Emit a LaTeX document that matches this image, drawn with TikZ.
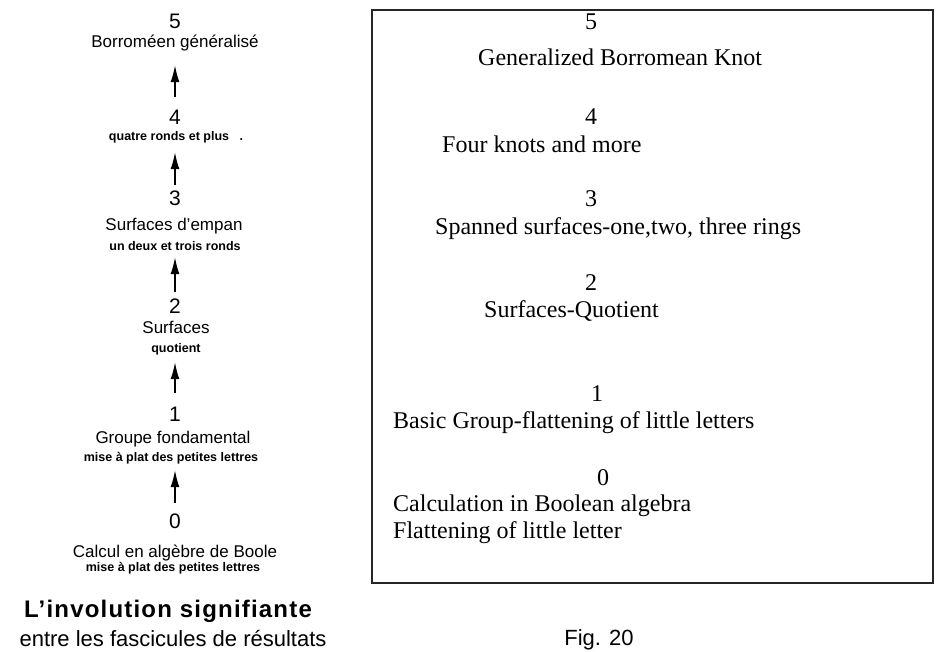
\documentclass[tikz,border=0pt]{standalone}
\usepackage{fontspec}
\setmainfont{Liberation Serif}
\newfontfamily\lsans{Liberation Sans}
\usetikzlibrary{arrows.meta}
\begin{document}
\begin{tikzpicture}[x=1pt,y=-1pt,
  rt/.style={font=\fontsize{24}{27}\selectfont, inner sep=0pt, anchor=base west},
  rd/.style={font=\fontsize{24}{27}\selectfont, inner sep=0pt, anchor=base},
  ld/.style={font=\lsans\fontsize{21}{21}\selectfont, inner sep=0pt, anchor=base, text height=15pt, text depth=0pt},
  lt/.style={font=\lsans\fontsize{17}{17}\selectfont, inner sep=0pt, anchor=base, text height=12pt, text depth=4pt},
  ls/.style={font=\lsans\bfseries\fontsize{12.5}{12.5}\selectfont, inner sep=0pt, anchor=base, text height=9pt, text depth=3pt},
  arr/.style={-{Latex[length=17pt,width=9pt]}, line width=1.5pt},
  boxline/.style={line width=1.5pt, draw=black!85}
]
\useasboundingbox (0,0) rectangle (936,652);

% ---------- left column ----------
\node[ld] (d5) at (175,29) {5};
\node[lt] (t5) at (175,48) {Borroméen généralisé};
\node[ld] (d4) at (175,125) {4};
\node[ls] (s4) at (176,141) {quatre ronds et plus \ \ .};
\node[ld] (d3) at (175,206) {3};
\node[lt] (t3) at (174,230) {Surfaces d’empan};
\node[ls] (s3) at (175,251) {un deux et trois ronds};
\node[ld] (d2) at (175,313) {2};
\node[lt] (t2) at (176,333) {Surfaces};
\node[ls] (s2) at (176,352) {quotient};
\node[ld] (d1) at (175,421) {1};
\node[lt] (t1) at (173,443) {Groupe fondamental};
\node[ls] (s1) at (171,461) {mise à plat des petites lettres};
\node[ld] (d0) at (175,528) {0};
\node[lt] (t0) at (175,557) {Calcul en algèbre de Boole};
\node[ls] (s0) at (173,571) {mise à plat des petites lettres};

\node[font=\lsans\bfseries\fontsize{24}{24}\selectfont\addfontfeature{LetterSpace=5}, inner sep=0pt, anchor=base] (title) at (168,617) {L’involution signifiante};
\node[font=\lsans\fontsize{22}{22}\selectfont, inner sep=0pt, anchor=base] (subtitle) at (173,646) {entre les fascicules de résultats};

\draw[arr, shorten <=13pt, shorten >=13pt] (d4.north) -- (d4.north |- t5.south);
\draw[arr, shorten <=6pt, shorten >=8pt] (d3.north) -- (d3.north |- s4.south);
\draw[arr, shorten <=6pt, shorten >=3pt] (d2.north) -- (d2.north |- s3.south);
\draw[arr, shorten <=13pt, shorten >=7pt] (d1.north) -- (d1.north |- s2.south);
\draw[arr, shorten <=10pt, shorten >=6pt] (d0.north) -- (d0.north |- s1.south);

% ---------- right box ----------
\draw[boxline] (372,10) rectangle (933,583);

\node[rd] (r5) at (591,30) {5};
\node[rt] (e5) at (478,66) {Generalized Borromean Knot};
\node[rd] (r4) at (591,125) {4};
\node[rt] (e4) at (442,153) {Four knots and more};
\node[rd] (r3) at (591,207) {3};
\node[rt] (e3) at (435,235) {Spanned surfaces-one,two, three rings};
\node[rd] (r2) at (591,290) {2};
\node[rt] (e2) at (484,317) {Surfaces-Quotient};
\node[rd] (r1) at (597,401) {1};
\node[rt] (e1) at (393,428) {Basic Group-flattening of little letters};
\node[rd] (r0) at (603,485) {0};
\node[rt] (e0) at (393,511) {Calculation in Boolean algebra};
\node[rt] (f0) at (393,538) {Flattening of little letter};

\node[font=\lsans\fontsize{22}{22}\selectfont, inner sep=0pt, anchor=base] (fig) at (599,645) {Fig. 20};
\end{tikzpicture}
\end{document}
